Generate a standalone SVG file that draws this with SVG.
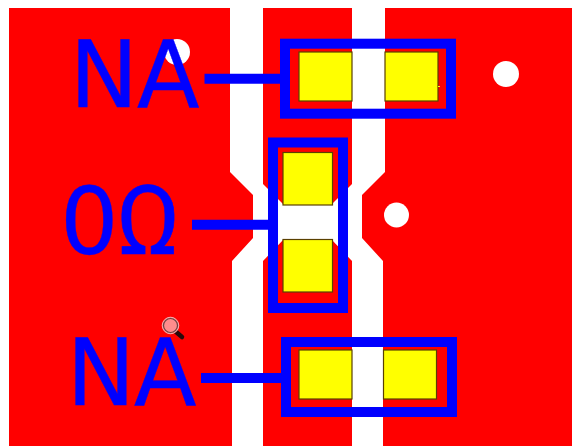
<svg xmlns="http://www.w3.org/2000/svg" width="572" height="446" viewBox="0 0 572 446">
<defs><filter id="soft" x="-20%" y="-20%" width="140%" height="140%"><feGaussianBlur stdDeviation="0.7"/></filter></defs>
<style>
.via{fill:#fff;filter:url(#soft)}
.pad{fill:#ff0;stroke:#5a4000;stroke-width:1.2}
.box{fill:none;stroke:#00f;stroke-width:10}
.wire{stroke:#00f;stroke-width:10;fill:none}
.lbl{font-family:"DejaVu Sans",sans-serif;font-size:92px;fill:#00f;stroke:#00f;stroke-width:0.3;letter-spacing:-1.5px}
</style>
<rect width="572" height="446" fill="#fff"/>
<g id="copper" fill="#f00">
<polygon points="9,8 230,8 230,172 253,195 253,238 232,261 232,446 9,446"/>
<polygon points="263,8 352,8 352,184 331,205 284,205 263,184"/>
<polygon points="284,239 331,239 352,261 352,446 263,446 263,261"/>
<polygon points="385,8 572,8 572,446 383,446 383,261 362,238 362,195 385,172"/>
</g>
<g id="vias">
<circle class="via" cx="177" cy="52" r="13"/>
<circle class="via" cx="506" cy="74" r="13"/>
<circle class="via" cx="396.500" cy="215" r="12.500"/>
</g>
<g id="pad-top">
<rect class="pad" x="299" y="52" width="53" height="49"/>
<rect class="pad" x="385" y="52" width="53" height="49"/>
<line x1="438" y1="86.500" x2="440" y2="86.500" stroke="#ff0"/>
</g>
<g id="pad-mid">
<rect class="pad" x="283" y="152.500" width="49.500" height="52.500"/>
<rect class="pad" x="283" y="239.500" width="49.500" height="52.500"/>
</g>
<g id="pad-bottom">
<rect class="pad" x="299" y="350" width="53" height="49"/>
<rect class="pad" x="383.500" y="350" width="53" height="49"/>
</g>
<g id="connectors">
<line class="wire" x1="204.500" y1="78.700" x2="285" y2="78.700"/>
<line class="wire" x1="192" y1="224.700" x2="273" y2="224.700"/>
<line class="wire" x1="201" y1="378" x2="286" y2="378"/>
</g>
<g id="node-top">
<rect class="box" x="285" y="43.700" width="166" height="70"/>
<text class="lbl" x="69.500" y="106.500">NA</text>
</g>
<g id="node-mid">
<rect class="box" x="273" y="142.500" width="70" height="165.500"/>
<text class="lbl" x="60" y="254">0<tspan x="116.500" style="font-family:Roboto,sans-serif;font-size:96px;letter-spacing:0;stroke-width:0.6">Ω</tspan></text>
</g>
<g id="node-bottom">
<rect class="box" x="286" y="342" width="166" height="70"/>
<text class="lbl" x="66.500" y="405">NA</text>
</g>
<g id="magnifier">
<line x1="175" y1="331" x2="182" y2="337" stroke="#2a0a0a" stroke-width="4.500" stroke-linecap="round"/>
<circle cx="170.500" cy="325.500" r="8.300" fill="#ff8c8c" stroke="#f4b0b0" stroke-width="1"/>
<circle cx="170.500" cy="325.500" r="7" fill="#ff8c8c" stroke="#6a4040" stroke-width="1.200"/>
</g>
</svg>
